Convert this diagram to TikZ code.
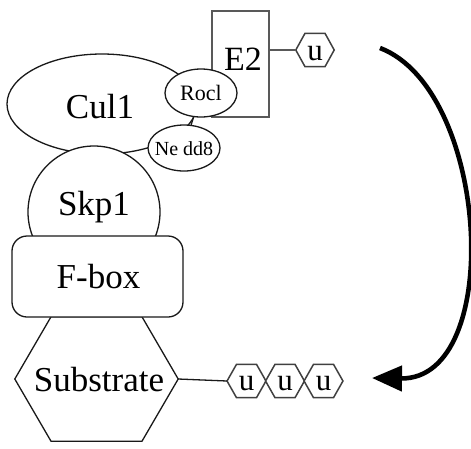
\documentclass[tikz,border=0pt]{standalone}
\usepackage{fontspec}
\setmainfont{Liberation Serif}
\usetikzlibrary{arrows.meta,shapes.geometric}
\tikzset{
  shapeline/.style={draw=black!90, line width=1.3pt, fill=white},
  bigtext/.style={font=\fontsize{35}{40}\selectfont, inner sep=0pt, anchor=base},
  smalltext/.style={font=\fontsize{22}{24}\selectfont, inner sep=0pt, anchor=base},
  tinytext/.style={font=\fontsize{20}{22}\selectfont, inner sep=0pt, anchor=base},
  utext/.style={font=\fontsize{31}{33}\selectfont, inner sep=0pt, anchor=base},
  hexbox/.style={draw=none, inner sep=0pt, rectangle},
  e2box/.style={draw=black!65, line width=2pt, rectangle, inner sep=0pt,
    minimum width=57pt, minimum height=106pt},
  grayconn/.style={draw=black!65, line width=1.8pt},
  conn/.style={draw=black!90, line width=1.3pt},
  bigarrow/.style={draw=black, line width=4.6pt, -{Triangle[length=30pt,width=25pt]}},
}
\newcommand{\hexframe}[3]{%
  \path[#3] (#1.west) -- ([xshift=-#2pt]#1.north) -- ([xshift=#2pt]#1.north)
    -- (#1.east) -- ([xshift=#2pt]#1.south) -- ([xshift=-#2pt]#1.south) -- cycle;}
\begin{document}
\begin{tikzpicture}[x=1pt,y=-1pt]
\useasboundingbox[fill=white] (0,0) rectangle (471,448);

% Cul1
\node[shapeline, ellipse, minimum width=190pt, minimum height=100pt, inner sep=0pt] (cul) at (102,104) {};
\node[bigtext] (cultext) at (100,118) {Cul1};

% E2
\node[e2box] (e2) at (240.5,64) {};
\node[bigtext, font=\fontsize{34}{38}\selectfont] (e2text) at (243,70) {E2};

% Rocl and Nedd8
\node[shapeline, ellipse, minimum width=72pt, minimum height=48pt, inner sep=0pt] (rocl) at (201,93) {};
\node[smalltext] (rocltext) at (201,100) {Rocl};
\node[shapeline, ellipse, minimum width=72pt, minimum height=46pt, inner sep=0pt] (nedd) at (184,148) {};
\node[tinytext] (neddtext) at (184,155) {Ne dd8};
\draw[conn] (rocl) -- (nedd);

% Skp1
\node[shapeline, circle, minimum size=132pt, inner sep=0pt] (skp) at (94,212) {};
\node[bigtext] (skptext) at (94,215) {Skp1};

% Substrate hexagon
\node[hexbox, minimum width=163pt, minimum height=124pt] (sub) at (96.5,379) {};
\hexframe{sub}{45.5}{shapeline}
\node[bigtext] (subtext) at (99,391) {Substrate};

% F-box
\node[shapeline, rectangle, rounded corners=15pt, minimum width=171pt, minimum height=81pt, inner sep=0pt] (fbox) at (97.5,276.5) {};
\node[bigtext] (fboxtext) at (98.5,288) {F-box};

% ubiquitin on E2
\node[hexbox, minimum width=38pt, minimum height=33pt] (u0) at (315,50) {};
\hexframe{u0}{10}{shapeline, draw=black!75, line width=1.5pt}
\node[utext] (u0text) at (315,60) {u};
\draw[grayconn] (u0.west -| e2.east) -- (u0.west);

% ubiquitin chain on substrate
\foreach \i/\x in {1/246.5, 2/285, 3/323.5} {
  \node[hexbox, minimum width=38.5pt, minimum height=33pt] (u\i) at (\x,381) {};
  \hexframe{u\i}{10}{shapeline, draw=black!75, line width=1.5pt}
  \node[utext] (u\i text) at (\x,390) {u};
}
\draw[conn] (sub.east) -- (u1.west);

% transfer arrow
\coordinate (arrowstart) at (380,48);
\coordinate (arrowend) at (372,378);
\draw[bigarrow] (arrowstart) .. controls (490,90) and (505,380) .. (arrowend);
\end{tikzpicture}
\end{document}
